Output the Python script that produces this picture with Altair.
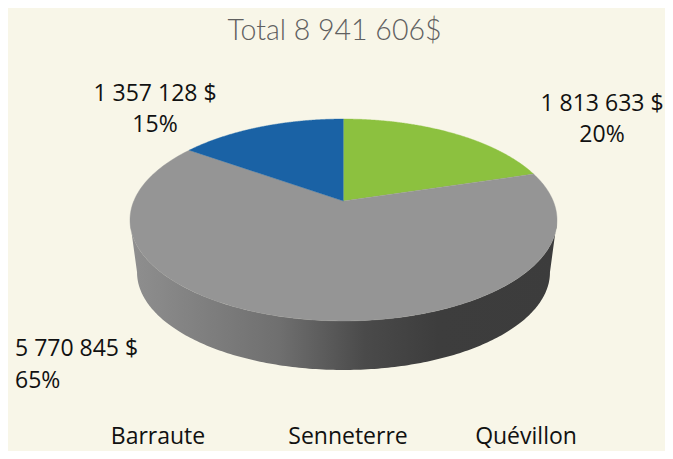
import altair as alt

# values
categories = ["Barraute", "Senneterre", "Quévillon"]
amounts = [1813633, 5770845, 1357128]          # drawn clockwise from 12 o'clock
slice_colors = ["#8cc13f", "#959595", "#1a62a5"]
title_text = "Total 8 941 606$"
total = sum(amounts)

BG = "#f8f6e8"
W, H = 657, 443
# pie geometry in page pixels
CX, CY = 343.5, 201
A, B, K = 209.7, 97.4, 0.188   # radii and perspective factor
S, D = 0.967, 53               # lower rim scale and offset (px)

x_scale = alt.Scale(domain=[-1, 1], range=[CX - A - 8, CX + A - 8])
y_scale = alt.Scale(domain=[-1, 1], range=[CY + B - 8, CY - B - 8])
DY = D / B


def enc(order="i"):
    return dict(
        x=alt.X("px:Q", scale=x_scale, axis=None),
        y=alt.Y("py:Q", scale=y_scale, axis=None),
        order=alt.Order(f"{order}:Q"),
    )


# side wall
PHI0, PHI1 = 100.8, 259.2
wall = (
    alt.Chart(alt.sequence(0, 401, 1, as_="i"))
    .transform_calculate(
        low="datum.i<=200 ? 1 : 0",
        t="datum.i<=200 ? datum.i/200 : (400-datum.i)/199.9",
        phi=f"({PHI0}+datum.t*({PHI1}-{PHI0}))*PI/180",
        d=f"1+{K}*cos(datum.phi)",
        px=f"sin(datum.phi)/datum.d*(datum.low ? {S} : 1)",
        py=f"cos(datum.phi)/datum.d*(datum.low ? {S} : 1)-(datum.low ? {DY} : 0)",
    )
    .mark_line(
        strokeWidth=0,
        fill=alt.Gradient(
            gradient="linear", x1=0, x2=1, y1=0, y2=0,
            stops=[
                alt.GradientStop(offset=0, color="#8f8f8f"),
                alt.GradientStop(offset=0.35, color="#6f6f6f"),
                alt.GradientStop(offset=0.55, color="#4a4a4a"),
                alt.GradientStop(offset=0.72, color="#3d3d3d"),
                alt.GradientStop(offset=1, color="#3c3c3c"),
            ],
        ),
    )
    .encode(**enc())
)

# top slices
layers = [wall]
cum = 0
for amt, col in zip(amounts, slice_colors):
    start = cum / total * 360
    cum += amt
    end = cum / total * 360
    layers.append(
        alt.Chart(alt.sequence(0, 202, 1, as_="i"))
        .transform_calculate(
            r="datum.i==0 ? 0 : 1",
            phi=f"({start}+(datum.i-1)/200*({end}-{start}))*PI/180",
            d=f"1+{K}*datum.r*cos(datum.phi)",
            px="datum.r*sin(datum.phi)/datum.d",
            py="datum.r*cos(datum.phi)/datum.d",
        )
        .mark_line(fill=col, stroke=col, strokeWidth=0.4)
        .encode(**enc())
    )


def text(s, x, y, align="center", size=23, color="#111111", font="Open Sans", weight=400):
    return (
        alt.Chart(alt.Data(values=[{"label": s}]))
        .mark_text(align=align, baseline="alphabetic", fontSize=size, color=color, font=font, fontWeight=weight)
        .encode(text="label:N", x=alt.value(x - 8), y=alt.value(y - 8))
    )


label_lines = [
    ("1 813 633 $", 602, 111, "center"), ("20%", 602, 142, "center"),
    ("5 770 845 $", 15, 356, "left"), ("65%", 15, 388, "left"),
    ("1 357 128 $", 155, 101, "center"), ("15%", 155, 132, "center"),
]
for s, x, y, al in label_lines:
    layers.append(text(s, x, y, al))

for s, x in zip(categories, [158, 348, 526]):
    layers.append(text(s, x, 444))

layers.append(text(title_text, 334.5, 40, size=28.5, color="#606060", font="Lato", weight=300))

chart = (
    alt.layer(*layers)
    .properties(width=W, height=H, background=BG, padding=0)
    .configure_view(stroke=None)
    .resolve_scale(x="shared", y="shared")
)
chart.save("out.html", embed_options={"renderer": "svg", "actions": False})
